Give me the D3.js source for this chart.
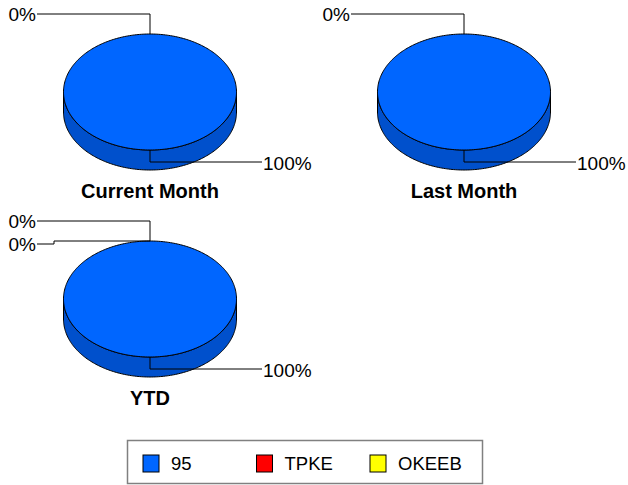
<!DOCTYPE html>
<html>
<head>
<meta charset="utf-8">
<script src="https://cdn.jsdelivr.net/npm/d3@7"></script>
<style>
  body { margin: 0; background: #fff; }
  svg { display: block; font-family: "Liberation Sans", Arial, sans-serif; }
</style>
</head>
<body>
<div id="chart"></div>
<script>
// data
const categories = ["95", "TPKE", "OKEEB"];
const colors = ["#0066FF", "#FF0000", "#FFFF00"];
const sideColors = ["#0050CC", "#C00000", "#CCCC00"];
const pieTitles = ["Current Month", "Last Month", "YTD"];
const currentMonth = [100, 0, null];
const lastMonth = [100, 0, null];
const ytd = [100, 0, 0];
const series = [currentMonth, lastMonth, ytd];

const W = 628, H = 485;
const svg = d3.select("#chart").append("svg")
    .attr("width", W)
    .attr("height", H);

// pie layout positions (center of top ellipse)
const spots = [{cx: 150, cy: 92}, {cx: 464, cy: 92}, {cx: 150, cy: 299}];
const rx = 86.5, ry = 58, depth = 20;

const pie = d3.pie().sort(null).value(d => d.value);
const fmt = d3.format(".0%");

function pt(cx, cy, a, dy) {
    return [cx + rx * Math.sin(a), cy - ry * Math.cos(a) + (dy || 0)];
}

function topPath(cx, cy, s) {
    const span = s.endAngle - s.startAngle;
    const n = Math.max(2, Math.ceil(span / 0.02));
    const pts = d3.range(n + 1).map(i => pt(cx, cy, s.startAngle + span * i / n));
    if (span >= 2 * Math.PI - 1e-6) return d3.line()(pts) + "Z";
    return "M" + cx + "," + cy + "L" + d3.line()(pts).slice(1) + "Z";
}

function sidePath(cx, cy, a0, a1) {
    const n = Math.max(2, Math.ceil((a1 - a0) / 0.02));
    const top = d3.range(n + 1).map(i => pt(cx, cy, a0 + (a1 - a0) * i / n));
    const bot = top.map(p => [p[0], p[1] + depth]).reverse();
    return d3.line()(top.concat(bot)) + "Z";
}

series.forEach((vals, pi) => {
    const {cx, cy} = spots[pi];
    const g = svg.append("g");
    const items = vals.map((v, i) => ({name: categories[i], value: v, idx: i}))
        .filter(d => d.value !== null);
    const arcs = pie(items);

    // side wall: only the front half (angles from PI/2 to 3PI/2)
    arcs.forEach(s => {
        const a0 = Math.max(s.startAngle, Math.PI / 2);
        const a1 = Math.min(s.endAngle, 3 * Math.PI / 2);
        if (a1 > a0) {
            g.append("path")
                .attr("d", sidePath(cx, cy, a0, a1))
                .attr("fill", sideColors[s.data.idx])
                .attr("stroke", "#000")
                .attr("stroke-width", 1);
        }
    });

    // top faces
    arcs.forEach(s => {
        if (s.endAngle - s.startAngle <= 0) return;
        g.append("path")
            .attr("d", topPath(cx, cy, s))
            .attr("fill", colors[s.data.idx])
            .attr("stroke", "#000")
            .attr("stroke-width", 1);
    });

    const total = d3.sum(items, d => d.value);
    const topY = cy - ry;
    let k = 0;
    arcs.forEach(s => {
        const mid = (s.startAngle + s.endAngle) / 2;
        const p = pt(cx, cy, mid);
        const label = fmt(s.data.value / total);
        let line, tx, ty, anchor;
        if (Math.cos(mid) > 0) {
            // top labels, stacked on the left
            const ly = topY - 20 + k * 23;
            const xEnd = cx - 113;
            if (k === 0) {
                line = [[xEnd, ly], [cx, ly], [cx, topY]];
            } else {
                line = [[xEnd, ly], [xEnd + 17, ly], [xEnd + 17, topY], [cx, topY]];
            }
            tx = xEnd - 1; ty = ly + 7; anchor = "end";
            k++;
        } else {
            const ly = cy + ry + 12;
            line = [[p[0], p[1]], [p[0], ly], [cx + 112, ly]];
            tx = cx + 113; ty = ly + 8; anchor = "start";
        }
        svg.append("path")
            .attr("d", d3.line()(line))
            .attr("fill", "none")
            .attr("stroke", "#000")
            .attr("stroke-width", 1);
        svg.append("text")
            .attr("x", tx).attr("y", ty)
            .attr("text-anchor", anchor)
            .style("font-size", "19px")
            .text(label);
    });

    svg.append("text")
        .attr("x", cx).attr("y", cy + ry + depth + 28)
        .attr("text-anchor", "middle")
        .style("font-size", "20px")
        .style("font-weight", "bold")
        .text(pieTitles[pi]);
});

// legend
const legend = svg.append("g");
legend.append("rect")
    .attr("x", 127.5).attr("y", 440.5)
    .attr("width", 355).attr("height", 43)
    .attr("fill", "#fff")
    .attr("stroke", "#808080")
    .attr("stroke-width", 1.5);
const lx = d3.scalePoint().domain(categories).range([143, 370]);
categories.forEach((c, i) => {
    legend.append("rect")
        .attr("x", lx(c)).attr("y", 455)
        .attr("width", 16).attr("height", 17)
        .attr("fill", colors[i])
        .attr("stroke", "#000")
        .attr("stroke-width", 1);
    legend.append("text")
        .attr("x", lx(c) + 28).attr("y", 470)
        .style("font-size", "18.5px")
        .text(c);
});
</script>
</body>
</html>
